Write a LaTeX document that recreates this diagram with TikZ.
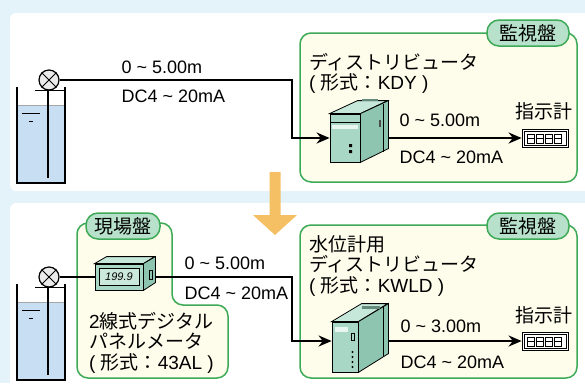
\documentclass[tikz,border=0pt]{standalone}
\usepackage{fontspec}
\setmainfont{Liberation Sans}
\newfontfamily\jp{Noto Sans CJK JP}
\usetikzlibrary{arrows.meta,positioning}
\definecolor{sky}{HTML}{E3F3F9}
\definecolor{cream}{HTML}{FEFCEA}
\definecolor{leaf}{HTML}{3DAA57}
\definecolor{mint}{HTML}{B7E1CA}
\definecolor{water}{HTML}{C8DEF2}
\definecolor{unitfront}{HTML}{A8D8C5}
\definecolor{unitside}{HTML}{8DC5B1}
\definecolor{unittop}{HTML}{C6E8DA}
\definecolor{amber}{HTML}{F5C063}
\newcommand\jpfont{\jp\fontsize{19}{20.5}\selectfont}
\newcommand\latfont{\fontsize{18}{21}\selectfont}
% seven segment window inside an indicator box
\newcommand\digits[1]{%
  \draw[line width=0.7pt] ([shift={(2.5pt,2.5pt)}]#1.south west) rectangle ([shift={(-2.5pt,-2.5pt)}]#1.north east);
  \foreach \k in {0,...,3}
    \draw[line width=0.7pt] ([shift={(5.5pt+\k*9.2pt,4.5pt)}]#1.south west) rectangle +(7pt,4.5pt)
      ([shift={(5.5pt+\k*9.2pt,9pt)}]#1.south west) rectangle +(7pt,4.5pt);
}
\tikzset{
  wire/.style={line width=2.4pt},
  feed/.style={wire,-{Stealth[length=13pt,width=11pt]}},
  panel/.style={draw=leaf,fill=cream,line width=1.5pt,rounded corners=11pt},
  tag/.style={draw=leaf,fill=mint,line width=1.5pt,rounded corners=12pt,minimum height=26pt,font=\jpfont},
  val/.style={anchor=west,font=\latfont},
  jlabel/.style={anchor=north west,align=left,inner sep=0pt,font=\jpfont},
  sensor/.style={circle,draw,fill=black!8,line width=1.2pt,minimum size=20pt,inner sep=0pt},
  unit/.style={draw,fill=unitfront,line width=0.8pt,inner sep=0pt},
  face/.style={line width=0.8pt},
  indicator/.style={draw,fill=white,line width=0.8pt,minimum width=46pt,minimum height=18pt,inner sep=0pt},
  tank/.pic={
    \fill[water] (-32,25) rectangle (16,103);
    \draw[black!35,line width=0.5pt] (-32,25) -- (16,25);
    \draw[line width=1.4pt] (-32,7) -- (-32,103) -- (16,103) -- (16,7);
    \draw[line width=0.6pt] (-27,33) -- (-9,33) (-20,41) -- (-16,41);
    \draw[line width=0.8pt] (-14,10) -- (16,10);
    \draw[line width=2.2pt] (-1,10) -- (-1,98);
  }
}

\begin{document}
\begin{tikzpicture}[x=1pt,y=-1pt]
  \useasboundingbox (0,0) rectangle (585,383);
  \fill[sky] (0,0) rectangle (585,383);
  \fill[white,rounded corners=6pt] (10,13) rectangle (600,191);
  \fill[white,rounded corners=6pt] (10,203) rectangle (600,400);

  % panels
  \draw[panel] (300,33) rectangle (577,182);
  \draw[panel] (300,225) rectangle (577,378);
  \draw[panel] (77,223) -- (172,223) -- (172,305) -- (228,305) -- (228,378) -- (77,378) -- cycle;
  \node[tag,minimum width=82pt] (mon1) at (528,33) {監視盤};
  \node[tag,minimum width=82pt] (mon2) at (528,226) {監視盤};
  \node[tag,minimum width=74pt] (field) at (123,226) {現場盤};

  % ---- upper: sensor straight to distributor
  \pic at (49,80) {tank};
  \node[sensor] (sens1) at (49,80) {};
  \draw[line width=1pt] (sens1.45) -- (sens1.225) (sens1.135) -- (sens1.315);

  \node[unit,minimum width=30pt,minimum height=48pt] (dist1) at (345,138) {};
  \filldraw[face,fill=unittop] (dist1.north west) -- ++(28,-13) -- ++(30,0) -- (dist1.north east) -- cycle;
  \filldraw[face,fill=unitside] (dist1.north east) -- ++(28,-13) -- ++(0,48) -- (dist1.south east) -- cycle;
  \fill[white,opacity=.75] (332,125) rectangle (358,129);
  \draw[line width=0.4pt] (330,122) -- (360,122);
  \fill (349,144) rectangle (352,147) (349,150) rectangle (352,153);
  \draw[line width=0.6pt] (383,103.5) -- (383,151.5);
  \fill[black!70] (379,120) rectangle (381,127);
  \fill[unitside!70!black] (362,99) rectangle (378,101);

  \node[indicator] (ind1) at (545,138) {};
  \digits{ind1}

  \coordinate (bend1) at (292,80);
  \coordinate (out1) at ([xshift=28pt]dist1.east);
  \draw[feed] (sens1) -- (bend1) |- (dist1);
  \draw[feed] (out1) -- (ind1);

  \node[val] (rng1) at (118,67) {0 \textasciitilde{} 5.00m};
  \node[val] (sig1) at (118,96) {DC4 \textasciitilde{} 20mA};
  \node[jlabel] (kdy) at (309,53) {ディストリビュータ\\{\rmfamily( }形式：{\rmfamily KDY )}};
  \node[val] (rng2) at (396,120) {0 \textasciitilde{} 5.00m};
  \node[val] (sig2) at (396,157) {DC4 \textasciitilde{} 20mA};
  \node[anchor=west,inner sep=0pt,font=\jpfont] (disp1) at (515,111) {指示計};

  % ---- lower: panel meter in the loop
  \pic at (49,277) {tank};
  \node[sensor] (sens2) at (49,277) {};
  \draw[line width=1pt] (sens2.45) -- (sens2.225) (sens2.135) -- (sens2.315);

  \node[unit,minimum width=48pt,minimum height=26pt] (meter) at (119,277) {};
  \filldraw[face,fill=unittop] (meter.north west) -- ++(12,-7) -- ++(48,0) -- (meter.north east) -- cycle;
  \filldraw[face,fill=unitside] (meter.north east) -- ++(12,-7) -- ++(0,26) -- (meter.south east) -- cycle;
  \draw[line width=0.5pt] (149,270) rectangle (152,279);
  \node[draw,fill=unitfront!60!white,line width=0.6pt,minimum width=40pt,minimum height=17pt,inner sep=0pt,
        font=\itshape\fontsize{11}{11}\selectfont] (lcd) at (meter) {199.9};

  \node[unit,minimum width=26pt,minimum height=50pt] (dist2) at (345,347) {};
  \filldraw[face,fill=unittop] (dist2.north west) -- ++(30,-18) -- ++(26,0) -- (dist2.north east) -- cycle;
  \filldraw[face,fill=unitside] (dist2.north east) -- ++(30,-18) -- ++(0,50) -- (dist2.south east) -- cycle;
  \fill[white,opacity=.75] (335,327) rectangle (348,332);
  \draw[line width=0.6pt] (351,333) rectangle (354,340);
  \foreach \yy in {352,357,362,367}
    \fill (352.5,\yy) circle (1.2pt);
  \draw[line width=0.6pt] (383,306) -- (383,356);
  \fill[unitside!70!black] (362,306) rectangle (380,309);

  \node[indicator] (ind2) at (545,341) {};
  \digits{ind2}

  \coordinate (bend2) at (292,277);
  \coordinate (in2) at ([yshift=6pt]dist2.west);
  \coordinate (out2) at ([xshift=30pt,yshift=6pt]dist2.east);
  \draw[wire] (sens2) -- (meter);
  \draw[feed] ([xshift=12pt]meter.east) -- (bend2) |- (in2);
  \draw[feed] (out2) -- (ind2);

  \node[val] (rng3) at (181,263) {0 \textasciitilde{} 5.00m};
  \node[val] (sig3) at (181,293) {DC4 \textasciitilde{} 20mA};
  \node[jlabel] (ptype) at (89,312) {{\rmfamily 2}線式デジタル\\パネルメータ\\{\rmfamily( }形式：{\rmfamily 43AL )}};
  \node[jlabel] (kwld) at (309,235) {水位計用\\ディストリビュータ\\{\rmfamily( }形式：{\rmfamily KWLD )}};
  \node[val] (rng4) at (397,326) {0 \textasciitilde{} 3.00m};
  \node[val] (sig4) at (397,362) {DC4 \textasciitilde{} 20mA};
  \node[anchor=west,inner sep=0pt,font=\jpfont] (disp2) at (515,315) {指示計};

  % step down to the revised loop
  \fill[amber] (269.5,172) -- (280.5,172) -- (280.5,215) -- (297,215) -- (275,235) -- (253,215) -- (269.5,215) -- cycle;
\end{tikzpicture}
\end{document}
